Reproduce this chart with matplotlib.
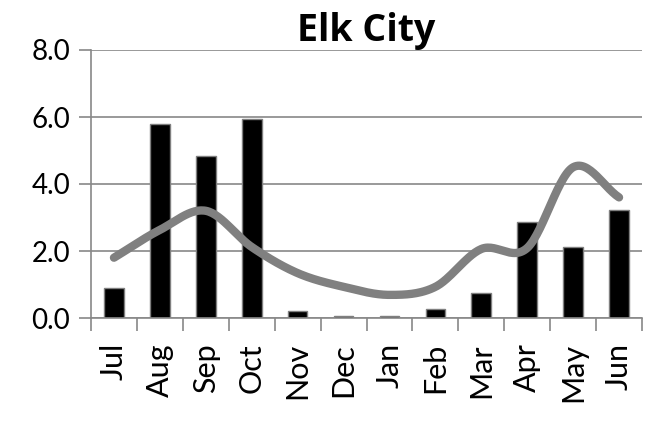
import numpy as np
import matplotlib.pyplot as plt

# data
months = ['Jul', 'Aug', 'Sep', 'Oct', 'Nov', 'Dec', 'Jan', 'Feb', 'Mar', 'Apr', 'May', 'Jun']
bars = [0.9, 5.8, 4.83, 5.93, 0.2, 0.06, 0.06, 0.27, 0.75, 2.87, 2.13, 3.22]
line = [1.8, 2.63, 3.2, 2.12, 1.34, 0.93, 0.69, 0.93, 2.06, 2.09, 4.5, 3.6]
y_ticks = [0, 2, 4, 6, 8]

plt.rcParams['font.family'] = ['Lato', 'DejaVu Sans']


def smooth(xs, ys, n=30):
    # Catmull-Rom spline through the points, like Excel's smoothed line
    px = np.concatenate([[2 * xs[0] - xs[1]], xs, [2 * xs[-1] - xs[-2]]])
    py = np.concatenate([[2 * ys[0] - ys[1]], ys, [2 * ys[-1] - ys[-2]]])
    out_x, out_y = [], []
    t = np.linspace(0, 1, n)
    for i in range(1, len(px) - 2):
        for p, out in ((px, out_x), (py, out_y)):
            p0, p1, p2, p3 = p[i - 1], p[i], p[i + 1], p[i + 2]
            out.extend(0.5 * (2 * p1 + (-p0 + p2) * t
                              + (2 * p0 - 5 * p1 + 4 * p2 - p3) * t ** 2
                              + (-p0 + 3 * p1 - 3 * p2 + p3) * t ** 3))
    return out_x, out_y


fig = plt.figure(figsize=(6.46, 4.23), dpi=100)
ax = fig.add_axes([91 / 646, 105 / 423, 551 / 646, 268 / 423])

x = np.arange(len(months))
ax.bar(x, bars, width=0.43, color='black', edgecolor='#7f7f7f', linewidth=1, zorder=2)
sx, sy = smooth(x.astype(float), np.array(line))
ax.plot(sx, sy, color='#808080', linewidth=6, solid_capstyle='round', zorder=3)

ax.set_xlim(-0.5, len(months) - 0.5)
ax.set_ylim(0, 8)
ax.set_yticks(y_ticks)
ax.set_yticklabels([f'{v:.1f}' for v in y_ticks], fontsize=20)
ax.yaxis.grid(True, color='#888888', linewidth=1.2, zorder=0)

ax.set_xticks(np.arange(-0.5, len(months), 1))
ax.set_xticklabels([])
ax.set_xticks(x, minor=True)
ax.set_xticklabels(months, minor=True, rotation=90, fontsize=22)
ax.tick_params(axis='x', which='major', length=9, color='#888888', width=1.2)
ax.tick_params(axis='x', which='minor', length=0, pad=18)
ax.tick_params(axis='y', length=9, color='#888888', width=1.2, pad=6)

for side in ['top', 'right']:
    ax.spines[side].set_visible(False)
for side in ['left', 'bottom']:
    ax.spines[side].set_color('#888888')
    ax.spines[side].set_linewidth(1.2)

ax.set_title('Elk City', fontsize=27, fontweight='bold', pad=4,
             family=['Open Sans', 'DejaVu Sans'])

plt.savefig('out.png', dpi=100)
